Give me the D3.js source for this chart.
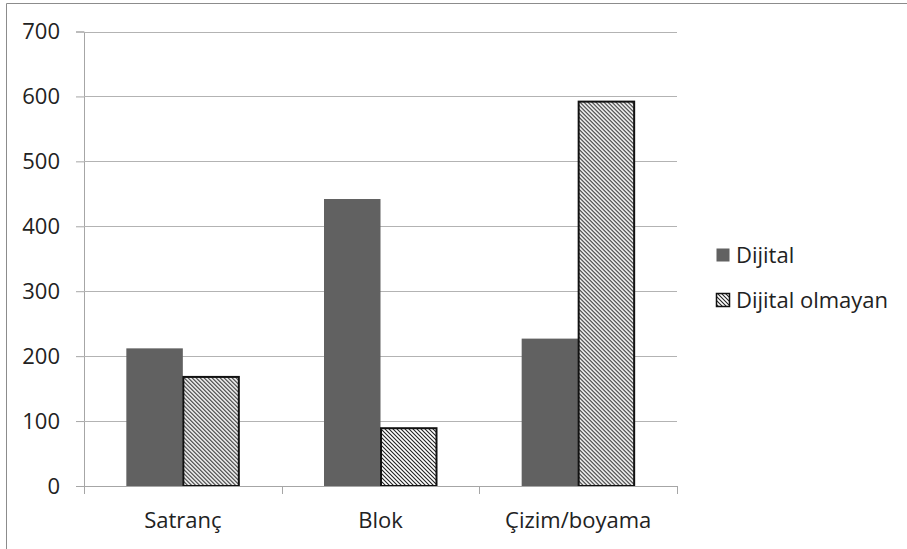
<!DOCTYPE html>
<html><head><meta charset="utf-8">
<script src="https://cdn.jsdelivr.net/npm/d3@7"></script>
<style>body{margin:0;background:#fff}svg{display:block}text{font-family:"Open Sans","Noto Sans",sans-serif;fill:#222}</style>
</head><body>
<script>
const categories = ["Satranç", "Blok", "Çizim/boyama"];
const seriesNames = ["Dijital", "Dijital olmayan"];
const dijital = [212, 442, 227];
const dijitalOlmayan = [168, 89, 592];
const yTicks = [0, 100, 200, 300, 400, 500, 600, 700];

const W = 907, H = 549, FS = 22;
const svg = d3.select("body").append("svg").attr("width", W).attr("height", H);

const defs = svg.append("defs");
const pat = defs.append("pattern").attr("id", "hatch").attr("patternUnits", "userSpaceOnUse")
  .attr("width", 4).attr("height", 4);
pat.append("rect").attr("width", 4).attr("height", 4).attr("fill", "#fff");
pat.append("path").attr("d", "M-1,-1 L5,5 M-1,3 L1,5 M3,-1 L5,1").attr("stroke", "#222").attr("stroke-width", 1.1);

// outer border (left and top visible)
svg.append("path").attr("d", `M6.5,${H} V3.5 H${W}`).attr("fill", "none").attr("stroke", "#8c8c8c");

const pLeft = 84, pRight = 677, pTop = 31.5, pBottom = 486;
const y = d3.scaleLinear().domain([0, 700]).range([pBottom, pTop]);
const x0 = d3.scaleBand().domain(categories).range([pLeft, pRight]).paddingInner(0).paddingOuter(0);
const inner = 113;
const x1 = d3.scaleBand().domain(seriesNames).range([0, inner]);

// y axis
const yAxis = d3.axisLeft(y).tickValues(yTicks).tickSize(8).tickPadding(6).tickFormat(d3.format("d"));
const gy = svg.append("g").attr("transform", `translate(${pLeft},0)`).call(yAxis);
gy.select(".domain").attr("stroke", "#a6a6a6");
gy.selectAll(".tick line").attr("stroke", "#a6a6a6");
gy.selectAll(".tick text").attr("font-size", FS).attr("fill", "#222").attr("x", -24)
  .style("font-family", "'Open Sans','Noto Sans',sans-serif");

// gridlines
svg.append("g").selectAll("line").data(yTicks.filter(d => d > 0)).join("line")
  .attr("x1", pLeft).attr("x2", pRight).attr("y1", d => Math.round(y(d)) + 0.5).attr("y2", d => Math.round(y(d)) + 0.5)
  .attr("stroke", "#b3b3b3");

// bars
const data = categories.map((c, i) => ({ c, vals: [dijital[i], dijitalOlmayan[i]] }));
const groups = svg.append("g").selectAll("g").data(data).join("g")
  .attr("transform", d => `translate(${x0(d.c) + (x0.bandwidth() - inner) / 2},0)`);
groups.selectAll("rect").data(d => d.vals.map((v, j) => ({ v, s: seriesNames[j] }))).join("rect")
  .attr("x", d => x1(d.s) + (d.s === seriesNames[1] ? 0.5 : 0))
  .attr("y", d => y(d.v))
  .attr("width", d => x1.bandwidth() - (d.s === seriesNames[1] ? 1 : 0))
  .attr("height", d => y(0) - y(d.v))
  .attr("fill", d => d.s === seriesNames[0] ? "#616161" : "url(#hatch)")
  .attr("stroke", d => d.s === seriesNames[0] ? "none" : "#111")
  .attr("stroke-width", 2);

// x axis
const xAxis = d3.axisBottom(x0).tickSize(0);
const gx = svg.append("g").attr("transform", `translate(0,${pBottom})`).call(xAxis);
gx.select(".domain").remove();
gx.selectAll(".tick text").attr("font-size", FS).attr("fill", "#222").attr("y", 42).attr("dy", 0)
  .style("font-family", "'Open Sans','Noto Sans',sans-serif");
svg.append("line").attr("x1", pLeft).attr("x2", pRight).attr("y1", pBottom + 0.5).attr("y2", pBottom + 0.5).attr("stroke", "#a6a6a6");
const bounds = [pLeft, ...categories.map(c => x0(c) + x0.bandwidth())];
svg.append("g").selectAll("line").data(bounds).join("line")
  .attr("x1", d => Math.round(d) + 0.5).attr("x2", d => Math.round(d) + 0.5)
  .attr("y1", pBottom).attr("y2", pBottom + 8).attr("stroke", "#a6a6a6");

// legend
const lg = svg.append("g").attr("transform", "translate(716,255)");
const items = lg.selectAll("g").data(seriesNames).join("g").attr("transform", (d, i) => `translate(0,${i * 45})`);
items.append("rect").attr("x", 0.5).attr("y", -6.5).attr("width", 13).attr("height", 13)
  .attr("fill", (d, i) => i === 0 ? "#616161" : "url(#hatch)")
  .attr("stroke", (d, i) => i === 0 ? "none" : "#111").attr("stroke-width", 1.5);
items.append("text").attr("x", 20).attr("y", 0).attr("dy", "0.35em").attr("font-size", FS).text(d => d);
</script>
</body></html>
